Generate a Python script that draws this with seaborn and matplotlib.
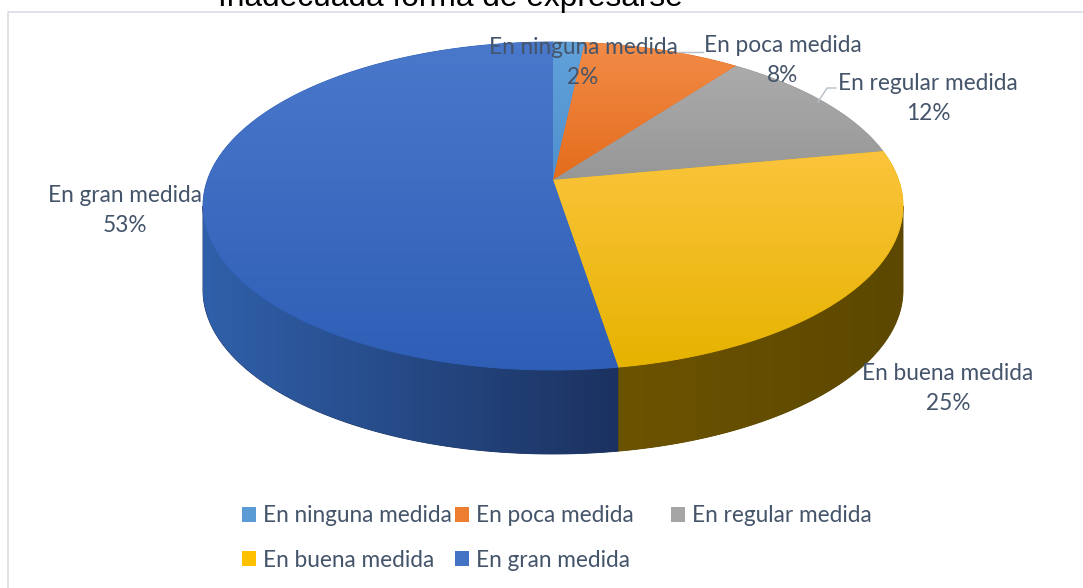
import numpy as np
import matplotlib
matplotlib.use("Agg")
import matplotlib.pyplot as plt
import seaborn as sns
from matplotlib.patches import Polygon, Patch
from matplotlib.colors import to_rgb

# --- data ---------------------------------------------------------------
title = "Inadecuada forma de expresarse"
categories = ["En ninguna medida", "En poca medida", "En regular medida",
              "En buena medida", "En gran medida"]
counts = [1, 5, 7, 15, 31]

# colours (Excel office theme, with gradient ends)
legend_colors = ["#5B9BD5", "#ED7D31", "#A5A5A5", "#FFC000", "#4472C4"]
top_light = ["#62A2DB", "#F28C48", "#ABABAB", "#FBC43C", "#4A78CB"]
top_dark = ["#4F8FCC", "#E46C1C", "#979797", "#E6B300", "#2E5EB6"]
side_light = ["#2E5680", "#8A4414", "#5E5E5E", "#6C5300", "#3060AA"]
side_dark = ["#23415F", "#6A340F", "#4A4A4A", "#5C4800", "#1B3260"]

# label layout (first line centre, in pixels)
label_xy = [(583, 48), (783, 45), (928, 83), (948, 373), (125, 195)]

sns.set_theme(style="white")
text_col = "#44546A"
font = "Lato"
fsize = 16.3

W, H = 1083, 588
fig = plt.figure(figsize=(W / 100, H / 100), dpi=100)
ax = fig.add_axes([0, 0, 1, 1])
ax.axis("off")

# --- pseudo 3D pie geometry ---------------------------------------------
cx, cy = 553, 180
rx, ry = 345.6, 159.9
persp = 0.1585
depth = 84


def proj(theta):
    t = np.radians(theta)
    u, v = np.sin(t), -np.cos(t)
    w = 1 - persp * v
    return np.column_stack([cx + rx * u / w, cy + ry * v / w])


def grad_fill(verts, c0, c1, horizontal=False, z=2):
    base = Polygon(verts, closed=True, facecolor=c1, edgecolor=c1, lw=0.6, zorder=z)
    ax.add_patch(base)
    x0, y0 = verts.min(0)
    x1, y1 = verts.max(0)
    t = np.linspace(0, 1, 256)[:, None]
    rgb = (1 - t) * np.array(to_rgb(c0)) + t * np.array(to_rgb(c1))
    img = rgb[None, :, :] if horizontal else rgb[:, None, :]
    im = ax.imshow(img, extent=(x0, x1, y1, y0), origin="upper", aspect="auto",
                   interpolation="bilinear", zorder=z + 0.1)
    im.set_clip_path(base)


total = sum(counts)
edges = np.concatenate([[0], np.cumsum(counts)]) / total * 360
vis0 = np.degrees(np.arccos(-persp))
vis1 = 360 - vis0

# sides
for i in range(len(counts)):
    a, b = max(edges[i], vis0), min(edges[i + 1], vis1)
    if b <= a:
        continue
    arc = proj(np.linspace(a, b, 120))
    low = arc[::-1] + [0, depth]
    grad_fill(np.vstack([arc, low]), side_light[i], side_dark[i], horizontal=True, z=2)

# top faces
for i in range(len(counts)):
    arc = proj(np.linspace(edges[i], edges[i + 1], 200))
    verts = np.vstack([[cx, cy], arc])
    grad_fill(verts, top_light[i], top_dark[i], z=4)

# data labels
for i, (x, y) in enumerate(label_xy):
    pct = f"{round(100 * counts[i] / total)}%"
    ax.text(x, y, categories[i], ha="center", va="center", fontsize=fsize,
            family=font, color=text_col, zorder=6)
    ax.text(x, y + 30, pct, ha="center", va="center", fontsize=fsize,
            family=font, color=text_col, zorder=6)

# leader lines
lead = "#B8BEC8"
ax.plot([677, 703], [52, 52], color=lead, lw=1, zorder=5)
ax.plot([818, 827, 836], [102, 88, 88], color=lead, lw=1, zorder=5)

# title (cropped at the top edge) and frame
ax.text(450, 6, title, ha="center", va="baseline", fontsize=22.8,
        family="Liberation Sans", color="black")
ax.plot([8, 8, W], [H, 12, 12], color="#D9DDE3", lw=1.2)

ax.set_xlim(0, W)
ax.set_ylim(H, 0)

# legend: three columns placed like Excel's (row-wise order)
palette = sns.color_palette(legend_colors)
handles = [Patch(facecolor=palette[i], edgecolor="none", label=categories[i])
           for i in range(len(categories))]
columns = [([0, 3], 231), ([1, 4], 444), ([2], 660)]
for idx, x in columns:
    fig.legend([handles[i] for i in idx], [categories[i] for i in idx],
               frameon=False, loc="upper left",
               bbox_to_anchor=(x / W, 1 - 494 / H), borderpad=0,
               prop={"family": font, "size": fsize}, labelcolor=text_col,
               handlelength=0.6, handleheight=0.6, handletextpad=0.3,
               labelspacing=1.03)

fig.savefig("out.png", dpi=100)
